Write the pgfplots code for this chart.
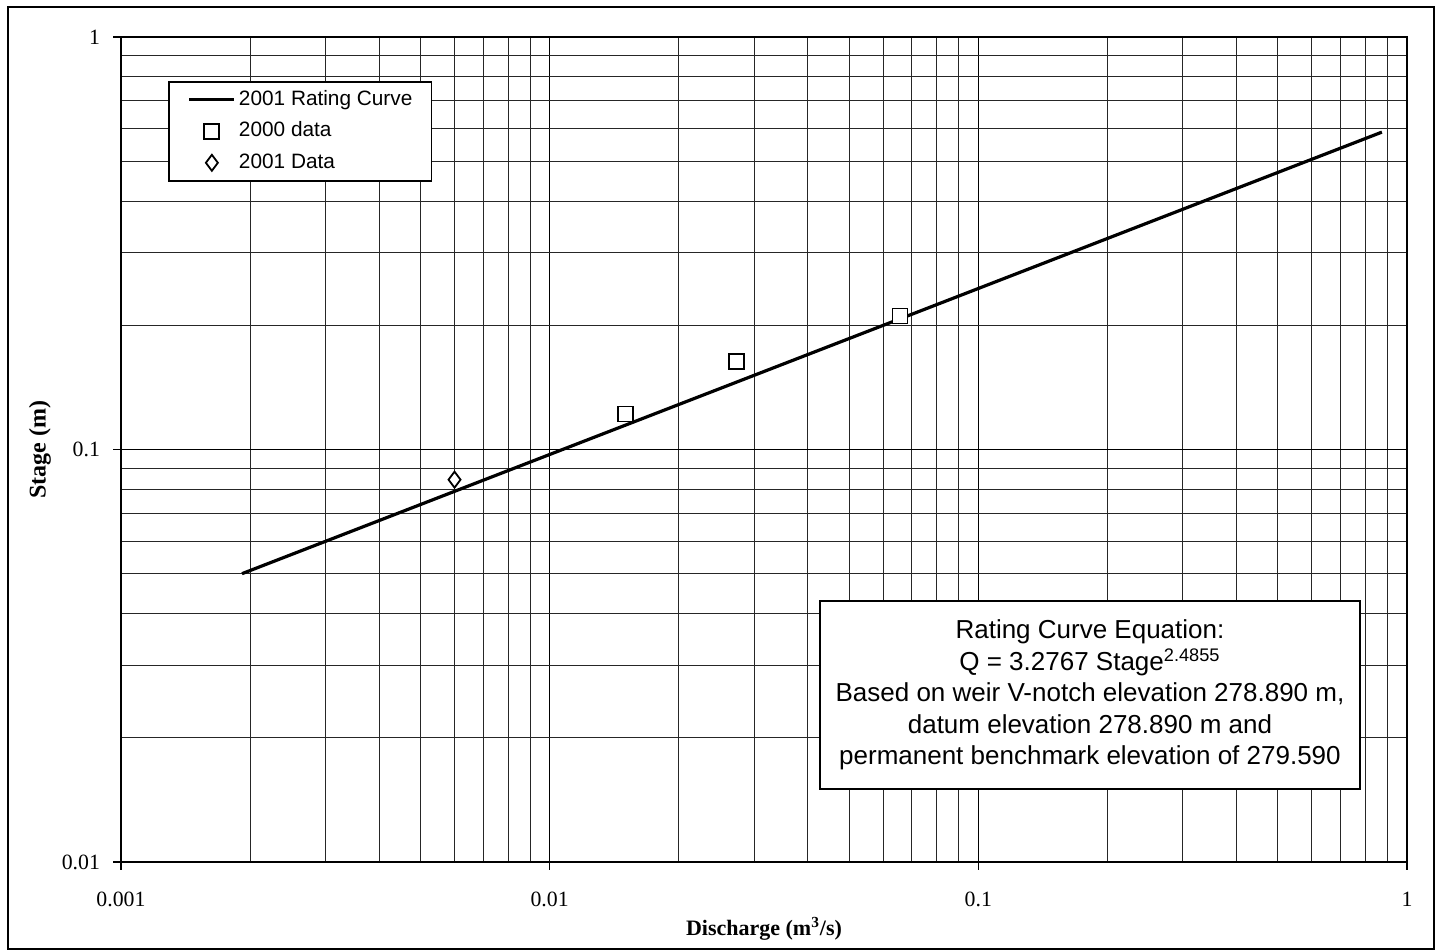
\documentclass[border=0pt]{standalone}
\usepackage{fontspec}
\setmainfont{Liberation Serif}
\newfontfamily\arial{Liberation Sans}
\usepackage{pgfplots}
\pgfplotsset{compat=1.18}
\pgfplotsset{
  legline/.style={legend image code/.code={\draw[##1] (0pt,0pt) -- (22.5pt,0pt);}},
  legmark/.style={legend image code/.code={\draw[mark repeat=2,mark phase=2,##1] plot coordinates {(0pt,0pt) (11.25pt,0pt) (22.5pt,0pt)};}},
}
\begin{document}
\begin{tikzpicture}
\useasboundingbox (-60.5pt,-44.5pt) rectangle (657.5pt,431pt);
\begin{axis}[
  at={(0,0)}, anchor=south west,
  scale only axis,
  width=643pt, height=412.5pt,
  xmode=log, ymode=log,
  xmin=0.001, xmax=1, ymin=0.01, ymax=1,
  xtick={0.001,0.01,0.1,1},
  xticklabels={0.001,0.01,0.1,1},
  ytick={0.01,0.1,1},
  yticklabels={0.01,0.1,1},
  tick label style={font=\fontsize{10.9}{12}\selectfont},
  xticklabel style={yshift=-7.5pt},
  yticklabel style={xshift=-3pt},
  tick pos=left,
  tick align=outside,
  major tick length=4pt,
  minor tick length=0pt,
  tick style={black, line width=0.8pt},
  axis line style={line width=1pt},
  grid=both,
  major grid style={black, line width=0.5pt},
  minor grid style={black!85, line width=0.5pt},
  xlabel={Discharge (m\textsuperscript{3}/s)},
  ylabel={Stage (m)},
  xlabel style={font=\bfseries\fontsize{11}{12}\selectfont,
    at={(axis description cs:0.5,-0.0885)}, anchor=base},
  ylabel style={font=\bfseries\fontsize{12}{13}\selectfont,
    at={(axis description cs:-0.063,0.5)}, anchor=center},
  legend style={at={(axis description cs:0.03655,0.9467)}, anchor=north west,
    draw=black, line width=0.8pt, fill=white,
    font=\arial\fontsize{10.4}{12}\selectfont,
    inner xsep=9.5pt, inner ysep=4.25pt,
    column sep=1.5pt, row sep=6.25pt,
    nodes={inner sep=0pt, text height=7.5pt, text depth=2pt}},
  legend cell align=left,
]
\addplot[black, line width=1.6pt, legline]
  coordinates {(0.001916,0.05) (0.01072,0.1) (0.06001,0.2) (0.874,0.588)};
\addlegendentry{2001 Rating Curve}
\addplot[only marks, mark=square*, mark size=3.75pt, black, line width=0.9pt,
  mark options={fill=white}, legmark]
  coordinates {(0.01502,0.1219) (0.02731,0.1633) (0.0657,0.2107)};
\addlegendentry{2000 data}
\addplot[only marks, mark=diamond*, mark size=4pt, black, line width=0.9pt,
  mark options={fill=white}, legmark]
  coordinates {(0.006,0.0845)};
\addlegendentry{2001 Data}
\node[draw=black, line width=0.8pt, fill=white, minimum width=270pt, minimum height=94pt,
  align=center, inner sep=0pt, font=\arial\fontsize{13}{15.8}\selectfont]
  at (rel axis cs:0.7535,0.2024)
  {Rating Curve Equation:\\
   Q = 3.2767 Stage\textsuperscript{2.4855}\\
   Based on weir V-notch elevation 278.890 m,\\
   datum elevation 278.890 m and\\
   permanent benchmark elevation of 279.590};
\end{axis}
\draw[line width=0.8pt] (-56.5pt,-43.5pt) rectangle (656.5pt,427.5pt);
\end{tikzpicture}
\end{document}
